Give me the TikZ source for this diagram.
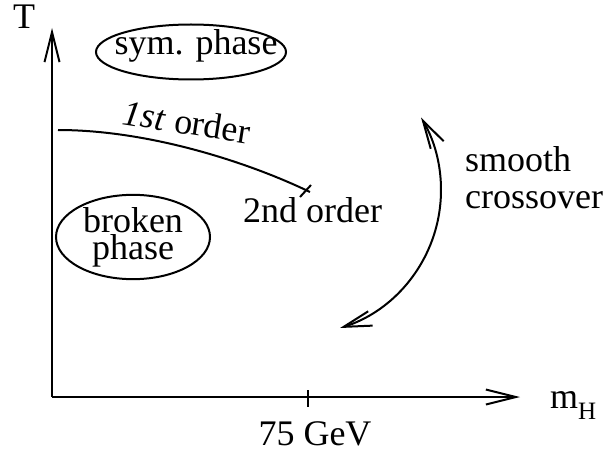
\documentclass[tikz,border=0pt]{standalone}
\usepackage{fontspec}
\setmainfont{Liberation Serif}
\usetikzlibrary{arrows.meta,shapes.geometric}
\begin{document}
\begin{tikzpicture}[x=1pt,y=-1pt,
  every node/.style={inner sep=0pt,font=\fontsize{36}{27}\selectfont},
  axis/.style={line width=2.2pt,-{Straight Barb[length=30pt,width=15pt,line width=2pt]}},
  curve/.style={line width=2pt},
  twoway/.style={line width=2pt,{Straight Barb[length=28pt,width=15pt,line width=2pt]}-{Straight Barb[length=28pt,width=15pt,line width=2pt]}},
  bubble/.style={draw,line width=2pt,ellipse}]
\useasboundingbox (0,0) rectangle (609,457);
% axes
\coordinate (origin) at (52,397);
\coordinate (ytip) at (52,28);
\coordinate (xtip) at (520,397);
\draw[axis] (origin) -- (ytip);
\draw[axis] (origin) -- (xtip);
\node[anchor=base] (Tlabel) at (24,29) {T};
\node[anchor=base west] (mH) at (550,408) {m{\fontsize{25}{25}\selectfont\raisebox{-11pt}{H}}};
% tick at 75 GeV
\coordinate (tickA) at (308,390);
\coordinate (tickB) at (308,407);
\draw[line width=2pt] (tickA) -- (tickB);
\node[anchor=base] (gev) at (315,445) {75 GeV};
% phases
\node[anchor=base] (sym) at (196,55) {sym. phase};
\draw[line width=2pt] (191,52) ellipse [x radius=95, y radius=27.5];
\node[bubble,minimum width=154pt,minimum height=82pt,align=center] (broken) at (133,237) {broken\\phase};
% first order line
\coordinate (lineA) at (58,130);
\coordinate (lineB) at (310,192);
\draw[curve] (lineA) .. controls (150,130) and (250,163) .. (lineB);
\coordinate (crossA) at (300,197);
\coordinate (crossB) at (311,185);
\draw[curve] (crossA) -- (crossB);
\node[anchor=base,rotate=-9] (first) at (185,134) {\textit{1st} order};
\node[anchor=base] (second) at (312.5,222) {2nd order};
% crossover
\node[anchor=base west,align=left,font=\fontsize{36}{37}\selectfont] (smooth) at (465,208) {smooth\\crossover};
\coordinate (arcstart) at (340,328);
\draw[twoway] (arcstart) arc[start angle=72.6, end angle=-30.5, radius=144];
\end{tikzpicture}
\end{document}
